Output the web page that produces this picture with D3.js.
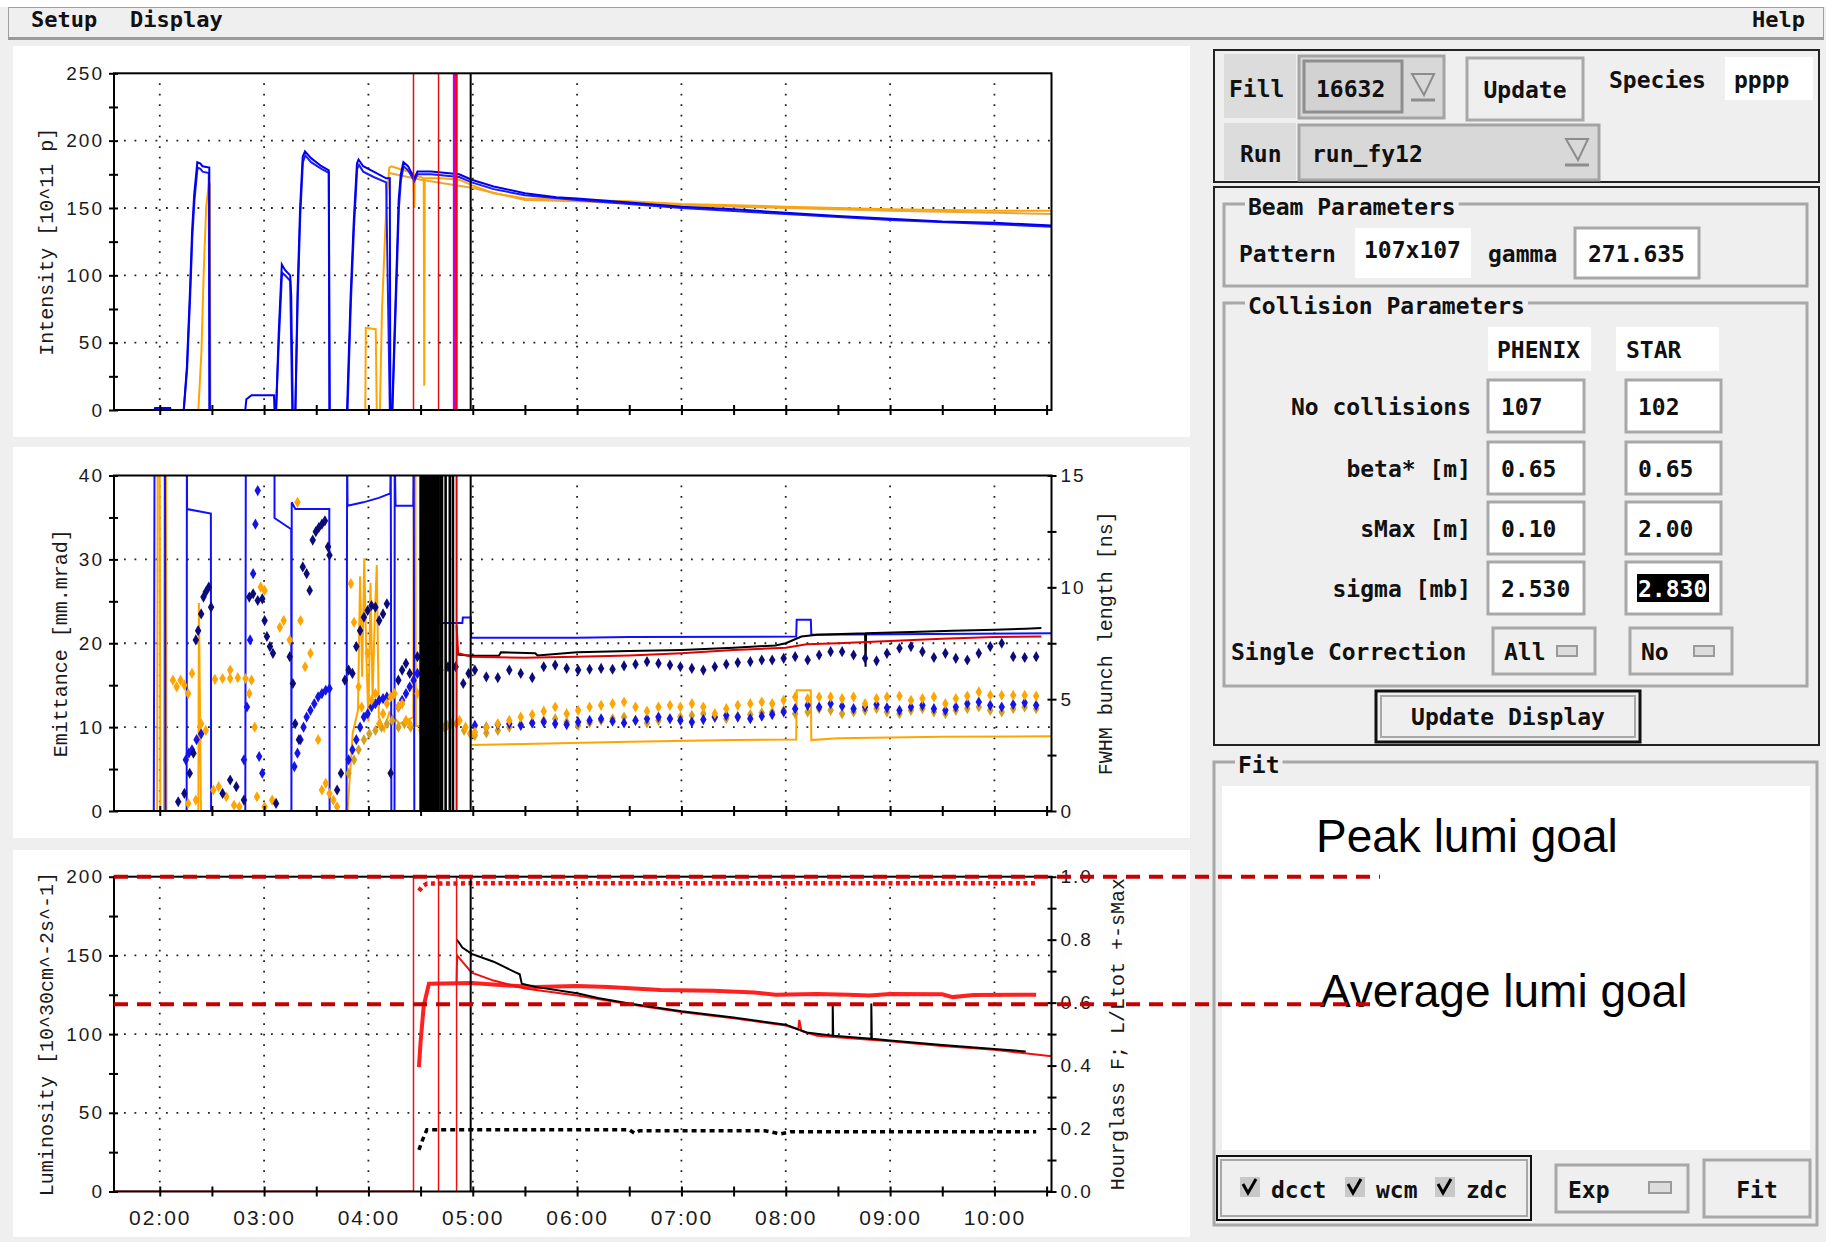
<!DOCTYPE html>
<html>
<head>
<meta charset="utf-8">
<title>Fill 16632</title>
<script src="https://cdn.jsdelivr.net/npm/d3@7"></script>
<style>
  body { margin: 0; background: #efefef; }
  svg { display: block; }
  .gui text { font-family: "DejaVu Sans Mono", monospace; font-weight: bold; font-size: 23px; fill: #111; }
  .tick text { font-family: "Liberation Sans", Arial, sans-serif; font-size: 19px; fill: #1a1a1a; letter-spacing: 2px; }
  .axisTitle { font-family: "Liberation Mono", monospace; font-size: 20px; fill: #1a1a1a; }
  .grid { stroke: #222; stroke-width: 1.8; stroke-dasharray: 1.8 8.7; }
  .goal { font-family: "Liberation Sans", Arial, sans-serif; font-size: 46px; fill: #000; }
</style>
</head>
<body>
<div id="app"></div>
<script>
// time window, hours of the day
var timeStart = 1.5615, timeEnd = 10.547;

// ---- intensity [10^11 p] : [hour, value] ----
var intensityBlueDcct = [[1.56,0],[1.95,0],[1.955,1.5],[2.1,1.5],[2.105,0],[2.23,0],[2.26,32],[2.29,89],[2.31,133],[2.33,160],[2.36,184],[2.39,183],[2.41,181],[2.475,180],[2.48,0],[2.82,0],[2.83,8],[2.88,11],[3.095,11],[3.1,0],[3.115,0],[3.14,57],[3.17,108],[3.2,104],[3.25,100],[3.26,85],[3.275,0],[3.3,0],[3.32,86],[3.345,150],[3.37,188],[3.392,192],[3.45,187],[3.55,181],[3.62,178],[3.63,0],[3.795,0],[3.83,86],[3.86,141],[3.89,183],[3.905,186],[3.95,181],[4.05,177],[4.17,172],[4.205,172],[4.21,0],[4.228,0],[4.25,57],[4.27,106],[4.29,156],[4.31,175],[4.335,184],[4.38,181],[4.44,172],[4.47,177],[4.6,177],[4.75,176],[4.87,175],[4.99,171],[5.2,166],[5.5,161],[5.8,158],[6.0,157],[6.5,154],[7.0,151],[7.5,149],[8.0,146.5],[8.5,144],[9.0,142],[9.5,140],[10.0,139],[10.547,137]];
var intensityBlueWcm = [[1.56,0],[2.23,0],[2.262,30],[2.292,85],[2.312,128],[2.333,156],[2.362,180],[2.39,179],[2.41,177],[2.47,176],[2.475,0],[3.115,0],[3.142,52],[3.172,102],[3.2,100],[3.25,96],[3.27,0],[3.3,0],[3.322,80],[3.347,145],[3.372,184],[3.395,189],[3.45,184],[3.55,179],[3.62,176],[3.625,0],[3.8,0],[3.832,80],[3.862,136],[3.892,179],[3.91,182],[3.95,177],[4.05,173],[4.17,169],[4.205,0],[4.23,0],[4.252,52],[4.272,100],[4.292,150],[4.312,171],[4.337,181],[4.38,178],[4.44,170],[4.47,175],[4.6,175],[4.87,173],[4.99,169],[5.2,164],[5.5,159.5],[6.0,156],[7.0,150],[8.0,145.5],[9.0,141],[10.0,138],[10.547,136]];
var intensityYellowDcct = [[1.56,0],[2.37,0],[2.4,44],[2.42,99],[2.445,151],[2.47,168],[2.48,168],[2.485,0],[3.97,0],[3.975,61],[4.07,60],[4.08,0],[4.11,0],[4.13,74],[4.16,131],[4.175,156],[4.2,180],[4.22,181],[4.3,179],[4.43,176],[4.44,150],[4.445,174],[4.5,173],[4.53,172],[4.535,18],[4.54,172],[4.7,172],[4.87,171],[4.99,167],[5.2,161],[5.5,157],[6.0,156],[6.5,155],[7.0,153],[7.5,152],[8.0,151],[8.5,150],[9.0,149],[9.5,148.5],[10.0,148],[10.547,148]];
var intensityYellowWcm = [[4.2,176],[4.5,171],[4.99,165],[5.5,156],[6.0,155],[7.0,152],[8.0,150],[9.0,148],[10.0,146.5],[10.547,145.5]];

// ---- bunch length [ns] : [hour, value] (values above 15 run off the top) ----
var bunchBlue = [[1.56,0],[1.943,0],[1.95,16],[2.05,16],[2.055,0],[2.258,0],[2.26,16],[2.262,13.5],[2.49,13.3],[2.492,0],[2.82,0],[2.825,16],[3.1,16],[3.1,13.1],[3.26,12.6],[3.262,0],[3.265,13.8],[3.3,13.5],[3.625,13.5],[3.628,0],[3.79,0],[3.796,16],[3.8,13.65],[3.95,13.8],[4.1,14.0],[4.21,14.2],[4.214,16],[4.22,0],[4.25,0],[4.252,16],[4.26,13.65],[4.43,13.65],[4.434,16],[4.44,0],[4.67,0],[4.672,16],[4.675,8.4],[4.9,8.4],[4.905,8.65],[4.98,8.65],[4.985,7.75],[6.0,7.75],[6.5,7.78],[8.1,7.8],[8.105,8.55],[8.24,8.55],[8.245,7.88],[9.0,7.9],[10.547,7.95]];
var bunchYellow = [[1.56,0],[1.975,0],[1.98,16],[2.0,16],[2.005,0],[2.04,0],[2.045,16],[2.06,16],[2.065,0],[2.37,0],[2.375,9.3],[2.385,5],[2.395,0],[3.8,0],[3.85,3.5],[3.9,4.5],[3.92,10.5],[3.94,6],[3.96,11.3],[3.98,7],[4.0,4],[4.02,10.2],[4.04,5],[4.06,8.5],[4.08,11],[4.1,4.2],[4.15,3.6],[4.2,4.4],[4.3,3.9],[4.43,4.2],[4.435,16],[4.45,16],[4.455,3.8],[4.5,3.8],[4.5,null],[4.985,2.95],[5.5,3.0],[6.5,3.1],[7.5,3.17],[8.1,3.2],[8.105,5.4],[8.24,5.4],[8.245,3.17],[8.5,3.25],[9.5,3.32],[10.547,3.34]];
var bunchBlack = [[4.85,7.0],[4.99,6.94],[5.25,6.94],[5.27,7.1],[5.6,7.05],[5.62,6.95],[6.0,7.1],[6.5,7.15],[7.0,7.2],[7.5,7.3],[7.9,7.4],[8.0,7.5],[8.15,7.8],[8.3,7.88],[8.76,7.95],[8.765,6.45],[8.77,7.95],[9.2,8.0],[9.6,8.06],[10.0,8.1],[10.3,8.15],[10.45,8.18]];
var bunchRed = [[4.845,8.3],[4.86,7.05],[4.99,6.9],[5.5,6.85],[6.0,6.9],[6.5,6.95],[7.0,7.05],[7.5,7.2],[8.0,7.3],[8.2,7.45],[8.5,7.5],[9.0,7.6],[9.5,7.7],[10.0,7.78],[10.45,7.8]];
// dense black band of bunch-length traces during the ramp
var bunchBandTimes = [4.5,4.515,4.53,4.545,4.56,4.575,4.59,4.605,4.62,4.635,4.65,4.665,4.69,4.705,4.74,4.78,4.81];

// ---- emittance [mm.mrad], store scans after 05:00 ----
var scanTimes = [5.02,5.13,5.24,5.35,5.46,5.57,5.68,5.79,5.90,6.01,6.12,6.23,6.34,6.45,6.56,6.67,6.78,6.89,6.99,7.10,7.21,7.32,7.43,7.54,7.66,7.77,7.87,7.98,8.09,8.21,8.32,8.43,8.54,8.65,8.76,8.87,8.97,9.09,9.20,9.31,9.42,9.53,9.63,9.74,9.85,9.96,10.07,10.18,10.29,10.40];
var emitNavy = [16.8,16,15.9,16.8,16.4,15.9,17.2,17.4,17,16.8,16.9,17,16.9,17.3,17.5,17.8,17.6,17.4,17.2,17,16.8,17.2,17.5,17.7,17.8,18,18,18.2,18.4,18,18.6,19,19,18.6,18.2,17.9,18.8,19.4,19.6,19,18.3,18.8,18.2,18,18.8,19.6,20,18.4,18.3,18.4];
var emitOrange = [9.4,10,10.4,10.8,11.2,11.5,11.9,12.4,11.6,12,12.4,12.6,12.8,13,12.4,11.9,12.4,12.6,12.4,12.8,12.4,11.6,12.2,12.6,12.8,13,12.8,13.2,13.6,13.4,13.6,13.6,13.4,13.6,12.8,13.4,13.6,13.7,13.2,13.4,13.6,12.8,13.4,13.7,14.2,13.8,13.8,13.8,13.8,13.7];
var emitGold = [9.0,9.3,9.6,10,10.3,10.5,10.8,11,10.6,10.2,10.5,10.8,11,11.2,10.8,10.5,10.8,11,11.2,11.4,11.6,11.2,11,11.3,11.5,11.7,11.8,12,11.6,11.8,12.2,12,11.6,11.8,12,12.2,11.8,11.6,12,12.2,11.8,11.6,12,12.2,12.4,12,11.8,12.2,12.4,12.2];
var emitBlue = [10.2,10.0,10.3,10.4,10.2,10.5,10.6,10.4,10.3,10.6,10.8,11,10.7,10.5,10.8,11,11.2,11,10.8,10.6,10.9,11.2,11.4,11.2,11,11.3,11.5,11.8,12.2,12.6,12.4,12.8,12.5,12.2,12.4,12.7,12.3,12,12.4,12.6,12.2,12,12.4,12.8,13,12.6,12.4,12.7,12.9,12.6];
// emittance during injection and ramp : [hour, value]
var injNavy = [[2.177,1.1],[2.236,2.1],[2.287,4.5],[2.323,6.9],[2.346,20.4],[2.368,21.5],[2.397,23.5],[2.419,25.5],[2.441,26.1],[2.47,26.7],[2.492,24.3],[2.602,2.1],[2.675,3.7],[2.734,2.9],[2.807,1.3],[2.858,25.5],[2.895,25.9],[2.939,25.1],[2.983,25.3],[3.005,22.7],[3.027,20.8],[3.056,19.6],[3.085,18.8],[3.115,0.9],[3.246,18.4],[3.276,15.2],[3.298,10.4],[3.334,8.5],[3.371,29.1],[3.408,28.3],[3.437,26.3],[3.466,32.3],[3.496,33.3],[3.525,33.8],[3.554,34.2],[3.583,34.6],[3.613,31.5],[3.627,30.5],[3.7,2.5],[3.737,4.5],[3.774,15.6],[3.81,16.8],[3.847,16.4],[3.884,19.6],[3.92,21.5],[3.957,23.1],[3.993,23.9],[4.03,24.5],[4.067,24.3],[4.103,22.7],[4.14,23.5],[4.177,24.7],[4.213,4.5],[4.287,15.6],[4.323,16.8],[4.36,17.6],[4.396,16.4],[4.47,18.4],[4.543,15.6],[4.616,16.4],[4.689,16.8],[4.763,17.2],[4.836,17.2],[4.909,15.2],[4.96,16.4]];
var injOrange = [[2.126,15.6],[2.162,14.8],[2.199,15.6],[2.236,15],[2.272,14],[2.309,16.4],[2.397,10.4],[2.441,9.6],[2.272,0.9],[2.346,1.3],[2.529,15.7],[2.602,15.8],[2.675,15.8],[2.748,15.9],[2.822,15.8],[2.88,15.6],[2.675,16.8],[2.514,2.5],[2.565,2.9],[2.638,1.7],[2.712,0.7],[2.763,0.5],[2.858,14],[2.91,10],[2.968,26.7],[3.005,26.3],[2.932,1.7],[3.005,0.5],[3.078,1.3],[3.151,21.9],[3.188,22.7],[3.246,20.4],[3.32,36.8],[3.349,22.7],[3.393,17.2],[3.444,18.8],[3.518,8.5],[3.554,2.5],[3.591,3.3],[3.627,2.1],[3.664,1.3],[3.7,0.5],[3.832,27.1],[3.862,22.5],[3.906,14.8],[3.935,12.4],[3.993,18.8],[4.03,13.2],[4.067,14],[4.103,10.4],[4.14,11.6],[4.177,12.8],[4.213,13.6],[4.25,14],[4.287,12.4],[4.323,12.8],[4.36,10.8],[4.396,10.4],[4.47,14],[4.507,9.6],[4.58,10],[4.653,10.8],[4.726,10],[4.799,10.4],[4.873,10.8],[4.931,10],[4.983,9.2]];
var injBlue = [[2.25,6.1],[2.279,6.9],[2.309,7.3],[2.353,8.5],[2.397,9.2],[2.807,6.1],[2.836,12.4],[2.866,20.4],[2.895,28.3],[2.917,34.2],[2.939,38.2],[2.953,6.5],[2.983,4.5],[3.29,5.3],[3.32,6.9],[3.349,8.5],[3.378,10],[3.408,11.2],[3.444,12],[3.481,12.8],[3.518,13.6],[3.554,14],[3.591,14.4],[3.627,14.6],[3.81,6.1],[3.847,7.3],[3.884,8.5],[3.92,10],[3.957,11.2],[3.993,11.6],[4.03,12.4],[4.067,12.8],[4.103,13.2],[4.14,13.4],[4.177,13.6],[4.287,12.4],[4.323,13.2],[4.36,14],[4.396,14.8],[4.433,15.6],[4.47,16.4]];
var injGold = [[3.81,4.5],[3.862,6.1],[3.906,7.3],[3.957,8.5],[4.008,9.2],[4.067,9.6],[4.125,10],[4.177,10.4],[4.228,10.8],[4.287,10],[4.345,10.4],[4.404,10],[4.58,10.2],[4.667,10.4],[4.755,10.2],[4.843,10.4],[4.917,9.6],[4.975,9.2]];

// ---- luminosity [10^30 cm^-2 s^-1] ----
var lumiThin = [[1.56,0],[4.43,0],[4.43,null],[4.845,133],[4.85,150],[4.9,146],[4.99,139],[5.2,134],[5.5,129],[6.0,124.5],[6.5,119],[7.0,114],[7.5,110],[8.0,105.5],[8.12,103],[8.13,109],[8.15,102],[8.3,99],[9.0,95.5],[9.5,92.5],[10.0,90],[10.547,86]];
var lumiThick = [[4.484,79],[4.5,95],[4.53,118],[4.58,132],[4.99,132.5],[5.3,131],[5.6,130],[6.0,130.5],[6.3,130],[6.8,128],[7.3,127.5],[7.7,126.5],[7.9,125],[8.3,125.5],[8.6,125],[8.8,124.5],[9.0,125.5],[9.5,125.3],[9.6,123.5],[9.8,124.8],[10.4,125]];
var lumiBlack = [[4.845,160],[4.87,158],[4.9,155],[4.99,151],[5.2,146],[5.4,139.5],[5.45,138],[5.47,132],[5.6,130],[6.0,126],[6.2,123],[6.5,119.5],[7.0,114.5],[7.5,110.5],[8.0,106],[8.2,101],[8.45,99],[8.45,119.5],[8.455,99],[8.82,97],[8.82,119.5],[8.825,97],[9.0,96],[9.5,93],[10.0,90.5],[10.3,89]];
// right axis: L/Ltot and hourglass factor
var lumiFraction = [[4.484,0.955],[4.52,0.97],[4.56,0.978],[5.0,0.979],[10.4,0.979]];
var hourglass = [[4.484,0.132],[4.52,0.165],[4.56,0.196],[5.0,0.196],[6.5,0.196],[6.55,0.185],[6.6,0.193],[7.8,0.193],[7.95,0.183],[8.05,0.19],[10.4,0.19]];
var lumiGoals = [200, 119];
var goalLabels = ["Peak lumi goal", "Average lumi goal"];

// event markers (hours)
var redEvents = [4.432, 4.672, 4.845];
var magentaEvent = 4.826;
var beamEvent = 4.98;

// axis ticks
var intensityTicks = [0,50,100,150,200,250], intensityMinor = [25,75,125,175,225];
var emitTicks = [0,10,20,30,40], emitMinor = [5,15,25,35];
var bunchTicks = [0,5,10,15], bunchMinor = [2.5,7.5,12.5];
var lumiTicks = [0,50,100,150,200], lumiMinor = [25,75,125,175];
var fracTicks = [0,0.2,0.4,0.6,0.8,1.0], fracMinor = [0.1,0.3,0.5,0.7,0.9];

// GUI values
var collisionRows = [["No collisions","107","102"],["beta* [m]","0.65","0.65"],["sMax [m]","0.10","2.00"],["sigma [mb]","2.530","2.830"]];
var detectors = ["dcct","wcm","zdc"];

//------------------------------------------------------------
var W = 1826, H = 1242;
var svg = d3.select("#app").append("svg").attr("width", W).attr("height", H);

svg.append("rect").attr("width", W).attr("height", H).attr("fill", "#efefef");
svg.append("rect").attr("width", W).attr("height", 7).attr("fill", "#ffffff");
svg.append("rect").attr("x", 8.5).attr("y", 7.5).attr("width", 1815).attr("height", 30)
   .attr("fill", "#efefef").attr("stroke", "#a0a0a0");
svg.append("line").attr("x1", 8).attr("x2", 1824).attr("y1", 38.5).attr("y2", 38.5)
   .attr("stroke", "#9a9a9a").attr("stroke-width", 3);

// white plot panels
[[46,391],[447,391],[850,387]].forEach(function (p) {
  svg.append("rect").attr("x", 13).attr("y", p[0]).attr("width", 1177).attr("height", p[1]).attr("fill", "#fff");
});

var BASE = Date.UTC(2012, 3, 9);
function t(h) { return new Date(BASE + h * 3600e3); }
var X0 = 114, X1 = 1051.5;
var x = d3.scaleUtc().domain([t(timeStart), t(timeEnd)]).range([X0, X1]);
var hm = d3.utcFormat("%H:%M");

function frame(p) {
  var y = d3.scaleLinear().domain([0, p.max]).range([p.bottom, p.top]);
  var yR = p.rightMax ? d3.scaleLinear().domain([0, p.rightMax]).range([p.bottom, p.top]) : null;
  var gridG = svg.append("g");
  svg.append("clipPath").attr("id", "clip-" + p.id).append("rect")
     .attr("x", X0).attr("y", p.top).attr("width", X1 - X0).attr("height", p.bottom - p.top);
  var body = svg.append("g").attr("clip-path", "url(#clip-" + p.id + ")");
  var ax = svg.append("g");

  gridG.selectAll(null).data(x.ticks(d3.utcHour.every(1))).join("line").attr("class", "grid")
       .attr("x1", function (d) { return x(d); }).attr("x2", function (d) { return x(d); })
       .attr("y1", p.top + 10).attr("y2", p.bottom);
  gridG.selectAll(null).data(p.ticks.slice(1, -1)).join("line").attr("class", "grid")
       .attr("x1", X0 + 10).attr("x2", X1).attr("y1", function (d) { return y(d); }).attr("y2", function (d) { return y(d); });

  ax.append("rect").attr("x", X0).attr("y", p.top).attr("width", X1 - X0).attr("height", p.bottom - p.top)
    .attr("fill", "none").attr("stroke", "#000").attr("stroke-width", 2);

  var la = ax.append("g").attr("transform", "translate(" + X0 + ",0)")
    .call(d3.axisLeft(y).tickValues(p.ticks).tickSize(5).tickPadding(5).tickFormat(p.fmt || d3.format("d")));
  var lm = ax.append("g").attr("transform", "translate(" + X0 + ",0)")
    .call(d3.axisLeft(y).tickValues(p.minor).tickSize(5).tickFormat(""));
  [la, lm].forEach(function (a) { a.selectAll(".tick line").attr("x1", 4); });

  var ba = ax.append("g").attr("transform", "translate(0," + p.bottom + ")")
    .call(d3.axisBottom(x).ticks(d3.utcMinute.every(30)).tickSize(5)
      .tickFormat(function (d) { return (p.timeLabels && d.getUTCMinutes() === 0) ? hm(d) : ""; }));
  ba.selectAll(".tick line").attr("y1", -5);
  ba.selectAll(".tick text").attr("y", 26.5).attr("dy", "0.35em").style("font-size", "21px");

  var axes = [la, lm, ba];
  if (yR) {
    var ra = ax.append("g").attr("transform", "translate(" + X1 + ",0)")
      .call(d3.axisRight(yR).tickValues(p.rightTicks).tickSize(5).tickPadding(4).tickFormat(p.rightFmt));
    var rm = ax.append("g").attr("transform", "translate(" + X1 + ",0)")
      .call(d3.axisRight(yR).tickValues(p.rightMinor).tickSize(5).tickFormat(""));
    [ra, rm].forEach(function (a) { a.selectAll(".tick line").attr("x1", -4); });
    axes.push(ra, rm);
  }
  axes.forEach(function (a) {
    a.select(".domain").remove();
    a.selectAll(".tick line").attr("stroke", "#000").attr("stroke-width", 2);
  });

  ax.append("text").attr("class", "axisTitle").attr("text-anchor", "middle").attr("dominant-baseline", "central")
    .attr("transform", "translate(" + p.titleX + "," + (p.top + p.bottom) / 2 + ") rotate(-90)").text(p.title);
  if (p.rightTitle) {
    ax.append("text").attr("class", "axisTitle").attr("text-anchor", "middle").attr("dominant-baseline", "central")
      .attr("transform", "translate(" + p.rightTitleX + "," + (p.top + p.bottom) / 2 + ") rotate(-90)").text(p.rightTitle);
  }
  return { y: y, yR: yR, body: body, top: p.top, bottom: p.bottom };
}

function trace(fr, scale, data, color, width, dash) {
  fr.body.append("path").datum(data)
    .attr("d", d3.line().defined(function (d) { return d[1] !== null; })
      .x(function (d) { return x(t(d[0])); }).y(function (d) { return scale(d[1]); }))
    .attr("fill", "none").attr("stroke", color).attr("stroke-width", width)
    .attr("stroke-dasharray", dash || null);
}
function marks(fr, scale, data, color) {
  fr.body.append("g").selectAll("path").data(data).join("path")
    .attr("transform", function (d) { return "translate(" + x(t(d[0])) + "," + scale(d[1]) + ")"; })
    .attr("d", d3.symbol(d3.symbolDiamond, 36)).attr("fill", color);
}
function vlines(fr, times, color, width) {
  fr.body.append("g").selectAll("line").data(times).join("line")
    .attr("x1", function (d) { return x(t(d)); }).attr("x2", function (d) { return x(t(d)); })
    .attr("y1", fr.top).attr("y2", fr.bottom).attr("stroke", color).attr("stroke-width", width);
}

// ---- intensity ----
var intPlot = frame({ id: "int", top: 73.3, bottom: 410, max: 250, ticks: intensityTicks, minor: intensityMinor,
  title: "Intensity [10^11 p]", titleX: 47 });
trace(intPlot, intPlot.y, intensityYellowWcm, "#e8a640", 2);
trace(intPlot, intPlot.y, intensityYellowDcct, "#ffa500", 2);
trace(intPlot, intPlot.y, intensityBlueWcm, "#1a1aff", 2);
trace(intPlot, intPlot.y, intensityBlueDcct, "#0000ee", 2);
vlines(intPlot, redEvents, "#e01010", 1.5);
vlines(intPlot, [magentaEvent], "#cc00cc", 3.5);
vlines(intPlot, [redEvents[2]], "#ff0000", 2);
vlines(intPlot, [beamEvent], "#000", 2);

// ---- emittance / bunch length ----
var emitPlot = frame({ id: "emit", top: 475.5, bottom: 811, max: 40, ticks: emitTicks, minor: emitMinor,
  rightMax: 15, rightTicks: bunchTicks, rightMinor: bunchMinor, rightFmt: d3.format("d"),
  title: "Emittance [mm.mrad]", titleX: 61, rightTitle: "FWHM bunch length [ns]", rightTitleX: 1106 });
trace(emitPlot, emitPlot.yR, bunchYellow, "#ffa500", 2);
trace(emitPlot, emitPlot.yR, bunchBlue, "#1010ff", 2);
trace(emitPlot, emitPlot.yR, bunchBlack, "#000", 2);
trace(emitPlot, emitPlot.yR, bunchRed, "#e00000", 2);
marks(emitPlot, emitPlot.y, injGold, "#d4a020");
marks(emitPlot, emitPlot.y, injBlue, "#1414e6");
marks(emitPlot, emitPlot.y, injOrange, "#ffa500");
marks(emitPlot, emitPlot.y, injNavy, "#0b0b7a");
marks(emitPlot, emitPlot.y, d3.zip(scanTimes, emitGold), "#d4a020");
marks(emitPlot, emitPlot.y, d3.zip(scanTimes, emitBlue), "#1414e6");
marks(emitPlot, emitPlot.y, d3.zip(scanTimes, emitOrange), "#ffa500");
marks(emitPlot, emitPlot.y, d3.zip(scanTimes, emitNavy), "#0b0b7a");
vlines(emitPlot, bunchBandTimes, "#000", 2.6);
vlines(emitPlot, [redEvents[2]], "#e00000", 2);
vlines(emitPlot, [beamEvent], "#000", 2);

// ---- luminosity ----
var lumiPlot = frame({ id: "lumi", top: 876.7, bottom: 1191.5, max: 200, ticks: lumiTicks, minor: lumiMinor,
  rightMax: 1, rightTicks: fracTicks, rightMinor: fracMinor, rightFmt: d3.format(".1f"), timeLabels: true,
  title: "Luminosity [10^30cm^-2s^-1]", titleX: 47, rightTitle: "Hourglass F; L/Ltot +-sMax", rightTitleX: 1118 });
trace(lumiPlot, lumiPlot.y, lumiThick, "#ff2020", 4);
trace(lumiPlot, lumiPlot.y, lumiThin, "#f01010", 2);
trace(lumiPlot, lumiPlot.y, lumiBlack, "#000", 2);
trace(lumiPlot, lumiPlot.yR, lumiFraction, "#f01010", 4.5, "4 3.5");
trace(lumiPlot, lumiPlot.yR, hourglass, "#000", 3.5, "5 4");
vlines(lumiPlot, redEvents, "#f01010", 1.5);
vlines(lumiPlot, [beamEvent], "#000", 2);

// lumi goals, running out into the Fit panel
var goalG = svg.append("g");
goalG.selectAll("line").data(lumiGoals).join("line")
  .attr("x1", X0).attr("x2", 1380)
  .attr("y1", function (d) { return lumiPlot.y(d); }).attr("y2", function (d) { return lumiPlot.y(d); })
  .attr("stroke", "#c40000").attr("stroke-width", 4).attr("stroke-dasharray", "14 9");

// ---- control panel ----
var gui = svg.append("g").attr("class", "gui");
function rect(x0, y0, w, h, fill, stroke, sw) {
  return gui.append("rect").attr("x", x0).attr("y", y0).attr("width", w).attr("height", h)
    .attr("fill", fill || "none").attr("stroke", stroke || "none").attr("stroke-width", sw || 0);
}
function text(s, x0, y0, anchor) {
  return gui.append("text").attr("x", x0).attr("y", y0).attr("text-anchor", anchor || "start").text(s);
}
function groupBox(x0, y0, w, h, title) {
  rect(x0, y0, w, h, "none", "#a8a8a8", 3);
  var tt = text(title, x0 + 24, y0 + 11);
  var bb = tt.node().getBBox();
  gui.insert("rect", function () { return tt.node(); })
    .attr("x", bb.x - 3).attr("y", bb.y).attr("width", bb.width + 6).attr("height", bb.height).attr("fill", "#efefef");
}
function arrow(x0, y0) {
  gui.append("path").attr("d", "M" + x0 + "," + y0 + "l22,0l-10,21z").attr("fill", "none").attr("stroke", "#8c8c8c").attr("stroke-width", 2);
  gui.append("path").attr("d", "M" + (x0 - 1) + "," + (y0 + 26) + "h24").attr("stroke", "#8c8c8c").attr("stroke-width", 3);
}

text("Setup", 31, 27).style("font-size", "22px");
text("Display", 130, 27).style("font-size", "22px");
text("Help", 1805, 27, "end").style("font-size", "22px");

rect(1214, 50, 605, 132, "none", "#222", 2);
rect(1224, 54, 72, 64, "#dcdcdc");
text("Fill", 1229, 97);
rect(1299, 56, 145, 62, "#d8d8d8", "#a4a4a4", 3);
rect(1304, 61, 98, 51, "#d2d2d2", "#8e8e8e", 3);
text("16632", 1316, 97);
arrow(1412, 74);
rect(1467, 58, 116, 62, "#efefef", "#a8a8a8", 3);
text("Update", 1525, 98, "middle");
text("Species", 1609, 88);
rect(1725, 57, 88, 43, "#fff");
text("pppp", 1734, 88);
rect(1224, 123, 72, 57, "#dcdcdc");
text("Run", 1240, 162);
rect(1299, 125, 300, 55, "#d8d8d8", "#a4a4a4", 3);
text("run_fy12", 1312, 162);
arrow(1566, 139);

rect(1214, 187, 605, 558, "none", "#222", 2);
groupBox(1224, 204, 583, 82, "Beam Parameters");
text("Pattern", 1239, 262);
rect(1355, 228, 116, 50, "#fff");
text("107x107", 1364, 258);
text("gamma", 1488, 262);
rect(1575, 228, 124, 50, "#fff", "#a8a8a8", 3);
text("271.635", 1588, 262);

groupBox(1224, 303, 583, 383, "Collision Parameters");
rect(1488, 327, 103, 44, "#fff");
text("PHENIX", 1497, 358);
rect(1616, 327, 103, 44, "#fff");
text("STAR", 1626, 358);
var rowY = [380, 442, 502, 562];
collisionRows.forEach(function (r, i) {
  var y0 = rowY[i];
  text(r[0], 1471, y0 + 35, "end");
  rect(1488, y0, 96, 52, "#fff", "#a8a8a8", 3);
  text(r[1], 1501, y0 + 35);
  rect(1626, y0, 95, 52, "#fff", "#a8a8a8", 3);
  if (i === collisionRows.length - 1) {
    rect(1637, y0 + 12, 72, 28, "#000");
    text(r[2], 1638, y0 + 35).style("fill", "#fff");
  } else {
    text(r[2], 1638, y0 + 35);
  }
});
text("Single Correction", 1231, 660);
rect(1493, 628, 102, 46, "#efefef", "#a8a8a8", 3);
text("All", 1504, 660);
rect(1557, 646, 20, 10, "#dcdcdc", "#9a9a9a", 2);
rect(1630, 628, 102, 46, "#efefef", "#a8a8a8", 3);
text("No", 1641, 660);
rect(1694, 646, 20, 10, "#dcdcdc", "#9a9a9a", 2);
rect(1376, 691, 264, 51, "#efefef", "#111", 3);
rect(1381, 696, 254, 41, "none", "#a8a8a8", 2);
text("Update Display", 1508, 725, "middle");

groupBox(1214, 762, 603, 463, "Fit");
rect(1222, 786, 588, 364, "#fff");
rect(1217, 1156, 314, 64, "#efefef", "#111", 2);
rect(1221, 1160, 306, 56, "none", "#a8a8a8", 2);
[1240, 1345, 1435].forEach(function (cx, i) {
  rect(cx, 1177, 20, 20, "#c8c8c8");
  gui.append("path").attr("d", "M" + (cx + 3) + ",1184l5,9l8,-14").attr("fill", "none").attr("stroke", "#000").attr("stroke-width", 3);
  text(detectors[i], cx + 31, 1198);
});
rect(1556, 1165, 132, 47, "#efefef", "#a8a8a8", 3);
text("Exp", 1568, 1198);
rect(1649, 1182, 22, 11, "#dcdcdc", "#9a9a9a", 2);
rect(1704, 1160, 106, 57, "#efefef", "#a8a8a8", 3);
text("Fit", 1757, 1198, "middle");

// goal labels in the Fit area, above the dashed lines
svg.append("g").selectAll("text").data(goalLabels).join("text").attr("class", "goal")
  .attr("x", function (d, i) { return i ? 1320 : 1316; })
  .attr("y", function (d, i) { return i ? 1007 : 852; })
  .text(function (d) { return d; });
goalG.raise();
</script>
</body>
</html>
